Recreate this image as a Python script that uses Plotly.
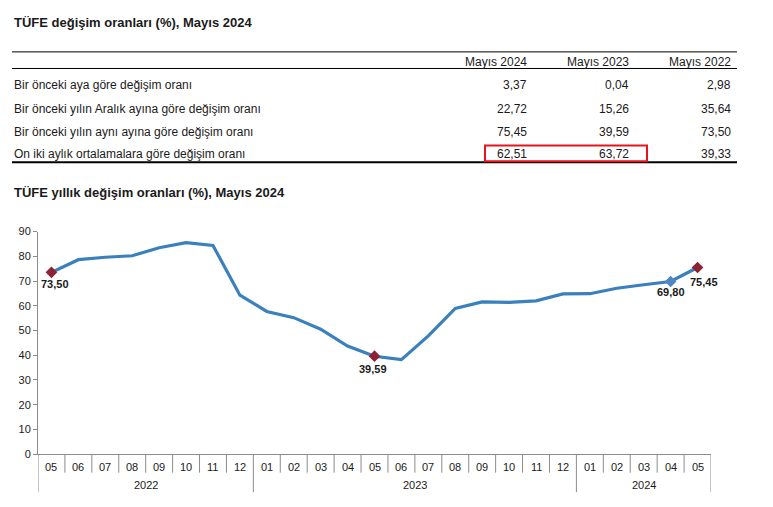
import plotly.graph_objects as go

W, H = 773, 507

# ---- data ----
table_title = "TÜFE değişim oranları (%), Mayıs 2024"
chart_title = "TÜFE yıllık değişim oranları (%), Mayıs 2024"
col_headers = ["Mayıs 2024", "Mayıs 2023", "Mayıs 2022"]
row_labels = [
    "Bir önceki aya göre değişim oranı",
    "Bir önceki yılın Aralık ayına göre değişim oranı",
    "Bir önceki yılın aynı ayına göre değişim oranı",
    "On iki aylık ortalamalara göre değişim oranı",
]
table_values = [
    ["3,37", "0,04", "2,98"],
    ["22,72", "15,26", "35,64"],
    ["75,45", "39,59", "73,50"],
    ["62,51", "63,72", "39,33"],
]

months = ["05", "06", "07", "08", "09", "10", "11", "12",
          "01", "02", "03", "04", "05", "06", "07", "08", "09", "10", "11", "12",
          "01", "02", "03", "04", "05"]
years = ["2022"] * 8 + ["2023"] * 12 + ["2024"] * 5
annual = [73.50, 78.62, 79.60, 80.21, 83.45, 85.51, 84.39, 64.27,
          57.68, 55.18, 50.51, 43.68, 39.59, 38.21, 47.83, 58.94, 61.53, 61.36, 61.98, 64.77,
          64.86, 67.07, 68.50, 69.80, 75.45]
label_idx = [0, 12, 23, 24]
label_color = ["#8B2335", "#8B2335", "#4F86C6", "#8B2335"]
label_shift = [(4, -12), (-2, -13), (0, -11), (6, -14)]

# ---- helpers for pixel -> paper ----
def px(x):
    return x / W

def py(y):
    return 1 - y / H

TXT = "#1a1a1a"
FONT = "Liberation Sans, Arial, sans-serif"
LINE_BLUE = "#3A80BD"

x_idx = list(range(len(annual)))

fig = go.Figure()
fig.add_trace(go.Scatter(x=x_idx, y=annual, mode="lines",
                         line=dict(color=LINE_BLUE, width=3.2), hoverinfo="skip"))
fig.add_trace(go.Scatter(x=[x_idx[i] for i in label_idx], y=[annual[i] for i in label_idx],
                         mode="markers",
                         marker=dict(symbol="diamond", size=9, color=label_color,
                                     line=dict(width=0)), hoverinfo="skip"))

annotations = []
shapes = []

# titles
annotations.append(dict(x=px(12), y=py(17), xref="paper", yref="paper", text="<b>" + table_title + "</b>",
                        showarrow=False, xanchor="left", yanchor="middle",
                        font=dict(size=13, color=TXT, family=FONT)))
annotations.append(dict(x=px(12), y=py(191), xref="paper", yref="paper", text="<b>" + chart_title + "</b>",
                        showarrow=False, xanchor="left", yanchor="middle",
                        font=dict(size=13, color=TXT, family=FONT)))

# table
col_right = [529, 631, 733]
for j, h in enumerate(col_headers):
    annotations.append(dict(x=px(col_right[j]), y=py(57), xref="paper", yref="paper", text=h,
                            showarrow=False, xanchor="right", yanchor="middle",
                            font=dict(size=12, color=TXT, family=FONT)))
row_y = [81, 105, 129, 152]
for i, lab in enumerate(row_labels):
    annotations.append(dict(x=px(12), y=py(row_y[i]), xref="paper", yref="paper", text=lab,
                            showarrow=False, xanchor="left", yanchor="middle",
                            font=dict(size=12, color=TXT, family=FONT)))
    for j, v in enumerate(table_values[i]):
        annotations.append(dict(x=px(col_right[j]), y=py(row_y[i]), xref="paper", yref="paper", text=v,
                                showarrow=False, xanchor="right", yanchor="middle",
                                font=dict(size=12, color=TXT, family=FONT)))

for yy, wdt in [(47, 1), (64, 1), (160, 2)]:
    shapes.append(dict(type="line", xref="paper", yref="paper", x0=px(12), x1=px(737),
                       y0=py(yy), y1=py(yy), line=dict(color="#000", width=wdt)))
shapes.append(dict(type="rect", xref="paper", yref="paper", x0=px(485), x1=px(647),
                   y0=py(143), y1=py(159), line=dict(color="#E8141B", width=2)))

# x axis category separators
y_axis0 = py(459)
for i in range(len(months) + 1):
    boundary = i == 0 or i == len(months) or years[i] != years[i - 1]
    shapes.append(dict(type="line", xref="x", yref="paper", x0=i - 0.5, x1=i - 0.5,
                       y0=y_axis0, y1=py(498 if boundary else 478),
                       line=dict(color="#8c8c8c", width=1)))

# month labels
for i, m in enumerate(months):
    annotations.append(dict(x=i, y=py(472), xref="x", yref="paper", text=m, showarrow=False,
                            xanchor="center", yanchor="middle",
                            font=dict(size=11, color=TXT, family=FONT)))
# year labels
uniq = []
for y in years:
    if y not in uniq:
        uniq.append(y)
for y in uniq:
    idx = [i for i, v in enumerate(years) if v == y]
    annotations.append(dict(x=(idx[0] + idx[-1]) / 2, y=py(491), xref="x", yref="paper", text=y,
                            showarrow=False, xanchor="center", yanchor="middle",
                            font=dict(size=11, color=TXT, family=FONT)))

# data labels
for k, i in enumerate(label_idx):
    annotations.append(dict(x=x_idx[i], y=annual[i], xref="x", yref="y",
                            text="<b>" + f"{annual[i]:.2f}".replace(".", ",") + "</b>",
                            showarrow=False, xanchor="center", yanchor="middle",
                            xshift=label_shift[k][0], yshift=label_shift[k][1],
                            font=dict(size=11, color=TXT, family=FONT)))

fig.update_layout(
    width=W, height=H,
    margin=dict(l=0, r=0, t=0, b=0),
    paper_bgcolor="white", plot_bgcolor="white",
    showlegend=False,
    xaxis=dict(domain=[px(38), px(711)], range=[-0.5, len(months) - 0.5],
               showticklabels=False, ticks="", showgrid=False, zeroline=False,
               showline=True, linecolor="#8c8c8c", linewidth=1),
    yaxis=dict(domain=[py(459), py(231)], range=[0, 90], tick0=0, dtick=10,
               showgrid=False, zeroline=False, showline=True, linecolor="#8c8c8c", linewidth=1,
               ticks="outside", ticklen=4, tickcolor="#8c8c8c",
               tickfont=dict(size=11, color=TXT, family=FONT)),
    annotations=annotations,
    shapes=shapes,
)

fig.write_html("out.html")
